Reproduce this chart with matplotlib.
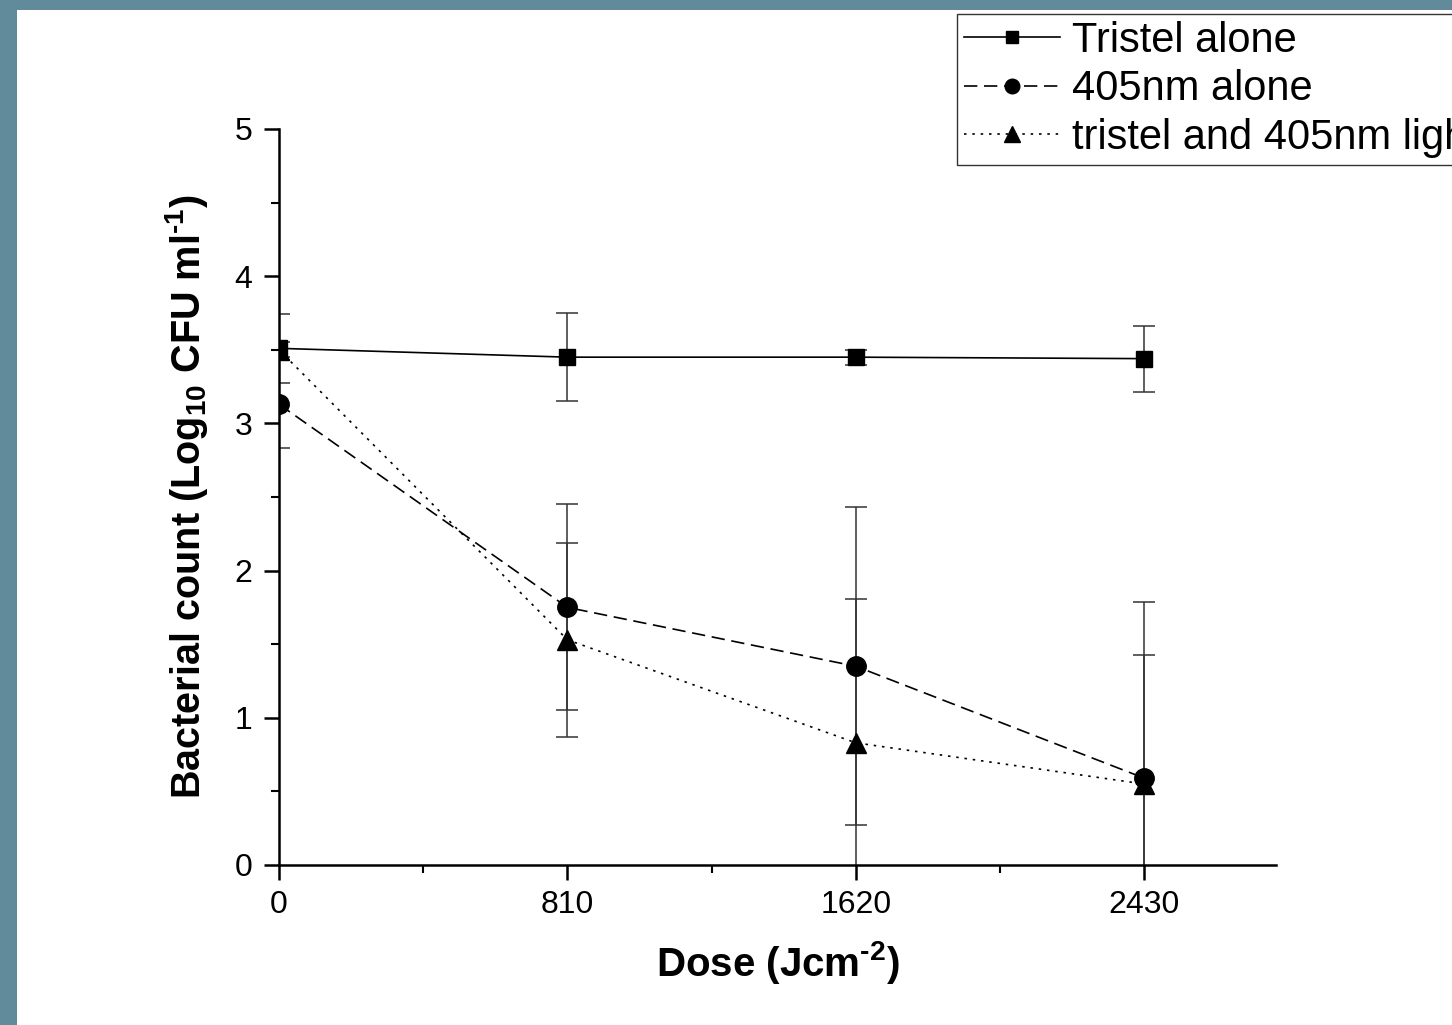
import matplotlib
matplotlib.use("Agg")
import matplotlib.pyplot as plt
from matplotlib.patches import Rectangle
from matplotlib.ticker import MultipleLocator, FixedLocator

plt.rcParams['font.family'] = ['Liberation Sans', 'DejaVu Sans']
plt.rcParams['mathtext.fontset'] = 'custom'
plt.rcParams['mathtext.rm'] = 'Liberation Sans:bold'
plt.rcParams['mathtext.bf'] = 'Liberation Sans:bold'

# Data
dose = [0, 810, 1620, 2430]
tristel_alone = [3.51, 3.45, 3.45, 3.44]
tristel_err = [0.235, 0.30, 0.05, 0.225]
nm405_alone = [3.13, 1.75, 1.35, 0.59]
nm405_err = [0.30, 0.70, 1.08, 1.20]
combined = [3.50, 1.53, 0.83, 0.55]
combined_err = [0.05, 0.66, 0.98, 0.88]
labels = ["Tristel alone", "405nm alone", "tristel and 405nm light"]
xticks = [0, 810, 1620, 2430]
yticks = [0, 1, 2, 3, 4, 5]

W, H = 1452, 1025
fig = plt.figure(figsize=(W / 100, H / 100), dpi=100)
fig.patch.set_facecolor('#618b9a')
fig.patches.append(Rectangle((17 / W, 0), 1 - 17 / W, 1 - 10 / H,
                             transform=fig.transFigure, facecolor='white',
                             edgecolor='none', zorder=-5))

ax = fig.add_axes([279 / W, 1 - 865 / H, (1276 - 279) / W, (865 - 129) / H])
ax.set_facecolor('none')
ax.set_zorder(2)

series = [
    (tristel_alone, tristel_err, '-', 's', 12, 'Tristel alone'),
    (nm405_alone, nm405_err, (0, (8, 4)), 'o', 14, '405nm alone'),
    (combined, combined_err, (0, (1.5, 3.5)), '^', 15, 'tristel and 405nm light'),
]
handles = []
for vals, errs, ls, mk, ms, lab in series:
    ax.errorbar(dose, vals, yerr=errs, fmt='none', ecolor='#333333',
                elinewidth=1.1, capsize=8, capthick=1.1, zorder=2)
    h, = ax.plot(dose, vals, linestyle=ls, color='black', linewidth=1.2,
                 marker=mk, markersize=ms, markerfacecolor='black',
                 markeredgecolor='black', label=lab, zorder=3)
    handles.append(h)

ax.set_xlim(0, 2800)
ax.set_ylim(0, 5)
ax.xaxis.set_major_locator(FixedLocator(xticks))
ax.xaxis.set_minor_locator(MultipleLocator(405))
ax.yaxis.set_major_locator(FixedLocator(yticks))
ax.yaxis.set_minor_locator(MultipleLocator(0.5))

for s in ['top', 'right']:
    ax.spines[s].set_visible(False)
for s in ['left', 'bottom']:
    ax.spines[s].set_linewidth(1.8)

ax.tick_params(axis='both', which='major', direction='out', length=11,
               width=1.8, labelsize=23, colors='black')
ax.tick_params(axis='both', which='minor', direction='out', length=5.5,
               width=1.5)
ax.tick_params(axis='x', which='major', pad=7)
ax.tick_params(axis='y', which='major', pad=8)

ax.set_xlabel(r'Dose (Jcm$^{\text{-2}}$)', fontsize=29, fontweight='bold',
              labelpad=14)
ax.set_ylabel(r'Bacterial count (Log$_{\text{10}}$ CFU ml$^{\text{-1}}$)',
              fontsize=28.5, fontweight='bold', labelpad=18)

leg = fig.legend(handles=handles, labels=labels, loc='upper left',
                 bbox_to_anchor=(957 / W, 1 - 14 / H), borderaxespad=0,
                 fontsize=30, frameon=True, fancybox=False, framealpha=1,
                 edgecolor='#333333', borderpad=0.17, labelspacing=0.2,
                 handlelength=2.3, handletextpad=0.28, markerscale=0.75)
leg.get_frame().set_linewidth(1.0)
leg.set_zorder(5)

fig.savefig('out.png', dpi=100, facecolor=fig.get_facecolor())
